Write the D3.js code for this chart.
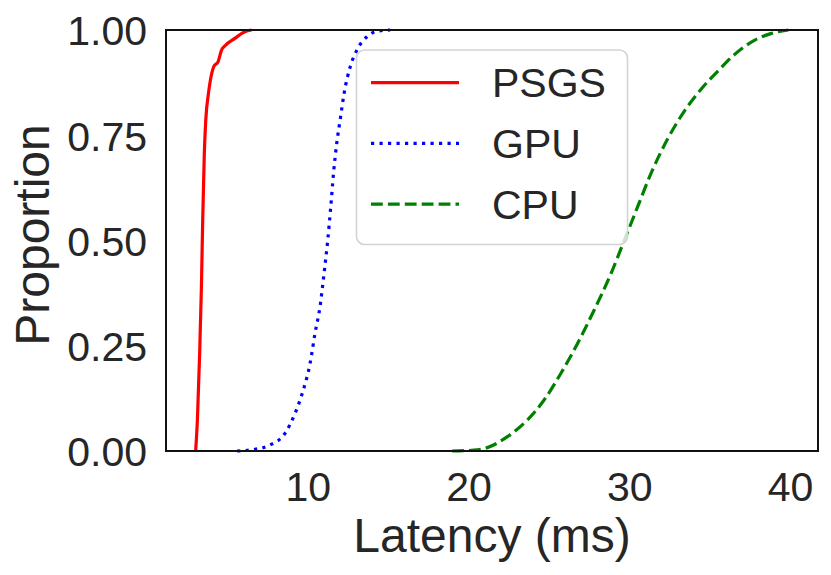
<!DOCTYPE html>
<html>
<head>
<meta charset="utf-8">
<script src="https://cdn.jsdelivr.net/npm/d3@7"></script>
<style>
  html, body { margin: 0; padding: 0; background: #fff; }
  text { font-family: "Liberation Sans", Arial, sans-serif; fill: #262626; }
</style>
</head>
<body>
<svg id="chart" width="831" height="575"></svg>
<script>
// ---- data ----
const psgsLatency = [3.02, 3.13, 3.27, 3.38, 3.46, 3.56, 3.65, 3.82, 3.94, 4.15, 4.42, 4.63, 4.83, 5.46, 6.08, 6.5];
const psgsProp    = [0.0, 0.074, 0.232, 0.39, 0.549, 0.707, 0.786, 0.85, 0.881, 0.913, 0.925, 0.952, 0.962, 0.98, 0.996, 1.0];

const gpuLatency = [5.6, 6.7, 7.64, 8.58, 9.2, 9.72, 10.14, 10.45, 10.76, 11.01, 11.24, 11.43, 11.6, 11.8, 12.01, 12.26, 12.64, 13.05, 13.68, 14.3, 15.13];
const gpuProp    = [0.0, 0.004, 0.014, 0.042, 0.089, 0.145, 0.208, 0.28, 0.343, 0.422, 0.501, 0.581, 0.66, 0.731, 0.786, 0.85, 0.913, 0.952, 0.984, 0.997, 1.0];

const cpuLatency = [18.98, 20.33, 21.17, 22.42, 23.67, 24.7, 25.74, 26.79, 27.82, 28.87, 29.7, 30.53, 31.36, 32.4, 33.44, 34.48, 35.53, 36.56, 37.81, 38.85, 39.9];
const cpuProp    = [0.0, 0.002, 0.008, 0.034, 0.074, 0.121, 0.184, 0.256, 0.335, 0.422, 0.501, 0.581, 0.66, 0.742, 0.808, 0.86, 0.903, 0.942, 0.976, 0.992, 1.0];

const seriesNames = ["PSGS", "GPU", "CPU"];
const xTicks = [10, 20, 30, 40];
const yTicks = [0, 0.25, 0.5, 0.75, 1.0];
const xLabel = "Latency (ms)";
const yLabel = "Proportion";

// ---- layout ----
const svg = d3.select("#chart");
const L = 166, R = 818, T = 30, B = 451;

const allX = psgsLatency.concat(gpuLatency, cpuLatency);
const xmin = d3.min(allX), xmax = d3.max(allX), pad = 0.05 * (xmax - xmin);
const x = d3.scaleLinear().domain([xmin - pad, xmax + pad]).range([L, R]);
const y = d3.scaleLinear().domain([0, 1]).range([B, T]);

const series = [
  { name: seriesNames[0], xs: psgsLatency, ys: psgsProp, color: "#ff0000", dash: null },
  { name: seriesNames[1], xs: gpuLatency,  ys: gpuProp,  color: "#0000ff", dash: "3.2,5.3" },
  { name: seriesNames[2], xs: cpuLatency,  ys: cpuProp,  color: "#008000", dash: "11.8,5.1" }
];

const line = d3.line().x(d => x(d[0])).y(d => y(d[1])).curve(d3.curveMonotoneX);

const g = svg.append("g");
series.forEach(s => {
  g.append("path")
    .datum(s.xs.map((v, i) => [v, s.ys[i]]))
    .attr("d", line)
    .attr("fill", "none")
    .attr("stroke", s.color)
    .attr("stroke-width", 3.2)
    .attr("stroke-dasharray", s.dash)
    .attr("stroke-linecap", "butt");
});

// frame
svg.append("rect").attr("x", L).attr("y", T).attr("width", R - L).attr("height", B - T)
  .attr("fill", "none").attr("stroke", "#111").attr("stroke-width", 2);

// axes (tick labels only)
const xAxis = d3.axisBottom(x).tickValues(xTicks).tickSize(0).tickPadding(0).tickFormat(d3.format("d"));
const xa = svg.append("g").attr("transform", `translate(0,${B})`).call(xAxis);
xa.select(".domain").remove();
xa.selectAll("text").attr("font-size", 41).attr("dy", null).attr("y", 49.5)
  .attr("font-family", "Liberation Sans, Arial, sans-serif").attr("fill", "#262626");

const yAxis = d3.axisLeft(y).tickValues(yTicks).tickSize(0).tickPadding(0).tickFormat(d3.format(".2f"));
const ya = svg.append("g").attr("transform", `translate(${L},0)`).call(yAxis);
ya.select(".domain").remove();
ya.selectAll("text").attr("font-size", 41).attr("x", -19).attr("dy", "0.36em")
  .attr("font-family", "Liberation Sans, Arial, sans-serif").attr("fill", "#262626");

// axis labels
svg.append("text").attr("x", (L + R) / 2).attr("y", 552).attr("text-anchor", "middle")
  .attr("font-size", 48).text(xLabel);
svg.append("text").attr("transform", "translate(48.5,235) rotate(-90)").attr("text-anchor", "middle")
  .attr("font-size", 48).text(yLabel);

// legend
const lg = svg.append("g");
lg.append("rect").attr("x", 356.5).attr("y", 50).attr("width", 271).attr("height", 194.5)
  .attr("rx", 8).attr("ry", 8)
  .attr("fill", "#fff").attr("fill-opacity", 0.8)
  .attr("stroke", "#d3d3d3").attr("stroke-width", 1.6);
series.forEach((s, i) => {
  const cy = 82.7 + i * 60.7;
  lg.append("line").attr("x1", 371).attr("x2", 459).attr("y1", cy).attr("y2", cy)
    .attr("stroke", s.color).attr("stroke-width", 3.2)
    .attr("stroke-dasharray", s.dash).attr("stroke-linecap", "butt");
  lg.append("text").attr("x", 492).attr("y", cy).attr("dy", "0.36em")
    .attr("font-size", 41).text(s.name);
});
</script>
</body>
</html>
